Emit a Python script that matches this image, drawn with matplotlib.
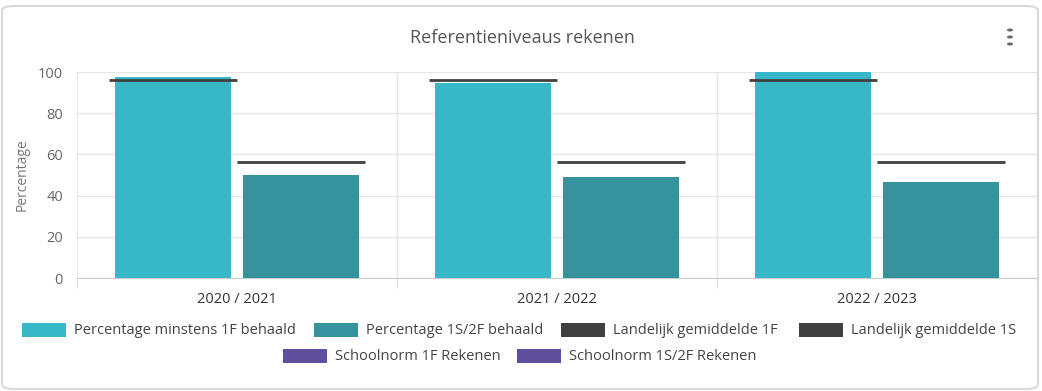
import matplotlib
matplotlib.use("Agg")
import matplotlib.pyplot as plt
from matplotlib.patches import FancyBboxPatch, Rectangle
import numpy as np

# data
years = ["2020 / 2021", "2021 / 2022", "2022 / 2023"]
pct_1f = [97.5, 94.5, 100.0]
pct_1s2f = [50.0, 49.0, 46.8]
landelijk_1f = [96.0, 96.0, 96.0]
landelijk_1s = [56.2, 56.4, 56.4]

legend_row1 = ["Percentage minstens 1F behaald", "Percentage 1S/2F behaald",
               "Landelijk gemiddelde 1F", "Landelijk gemiddelde 1S"]
legend_row2 = ["Schoolnorm 1F Rekenen", "Schoolnorm 1S/2F Rekenen"]

c_1f = "#37b8c8"
c_1s = "#36929c"
c_land = "#404040"
c_norm = "#5f4f9c"
txt = "#555555"

W, H = 1042, 391
plt.rcParams["font.family"] = ["Open Sans", "DejaVu Sans"]
fig = plt.figure(figsize=(W / 100, H / 100), dpi=100, facecolor="white")

# outer card border
card = FancyBboxPatch((2 / W, 2 / H), (W - 6) / W, (H - 8) / H,
                      boxstyle="round,pad=0,rounding_size=0.012",
                      transform=fig.transFigure, facecolor="none",
                      edgecolor="#d9d9d9", linewidth=1.5, zorder=-1)
fig.patches.append(card)

ax = fig.add_axes([77 / W, (H - 278) / H, 960 / W, 206 / H])
ax.set_facecolor("none")
x = np.arange(len(years))
ax.bar(x - 0.2, pct_1f, width=0.36, color=c_1f, zorder=3)
ax.bar(x + 0.2, pct_1s2f, width=0.36, color=c_1s, zorder=3)
ax.hlines(landelijk_1f, x - 0.4, x, colors=c_land, linewidth=2.0, zorder=4)
ax.hlines(landelijk_1s, x, x + 0.4, colors=c_land, linewidth=2.0, zorder=4)

ax.set_xlim(-0.5, len(years) - 0.5)
ax.set_ylim(0, 100)
ax.set_yticks(np.arange(0, 101, 20))
ax.set_xticks(x)
ax.set_xticklabels(years)
ax.set_xticks(np.arange(-0.5, len(years), 1.0), minor=True)
ax.tick_params(axis="x", which="major", length=0, pad=10, labelsize=10.5, labelcolor="#333333")
ax.tick_params(axis="x", which="minor", length=7, color="#dddddd", width=1)
ax.tick_params(axis="y", length=0, pad=10, labelsize=10.5, labelcolor="#666666")
ax.grid(axis="y", color="#e6e6e6", linewidth=1, zorder=0)
ax.grid(axis="x", which="minor", color="#e6e6e6", linewidth=1, zorder=0)
for s in ["top", "right", "left"]:
    ax.spines[s].set_visible(False)
ax.spines["bottom"].set_color("#cccccc")
ax.set_ylabel("Percentage", color="#777777", fontsize=10, labelpad=6)

fig.text(522 / W, 1 - 38 / H, "Referentieniveaus rekenen", ha="center", va="center",
         fontsize=13, color=txt)

# menu dots
for yy in (30, 37, 44):
    fig.patches.append(plt.Circle((1010 / W, 1 - yy / H), 2.2 / W, transform=fig.transFigure,
                                  color="#666666"))

# legend built by hand to match layout
def legend_item(px, py, color, label):
    fig.patches.append(Rectangle((px / W, 1 - (py + 7) / H), 44 / W, 14 / H,
                                 transform=fig.transFigure, facecolor=color, edgecolor="none"))
    fig.text((px + 52) / W, 1 - py / H, label, ha="left", va="center",
             fontsize=10.5, color="#444444")

row1_x = [22, 314, 561, 799]
row1_c = [c_1f, c_1s, c_land, c_land]
for px, c, lab in zip(row1_x, row1_c, legend_row1):
    legend_item(px, 330, c, lab)
row2_x = [283, 517]
for px, lab in zip(row2_x, legend_row2):
    legend_item(px, 356, c_norm, lab)

fig.savefig("out.png", dpi=100)
